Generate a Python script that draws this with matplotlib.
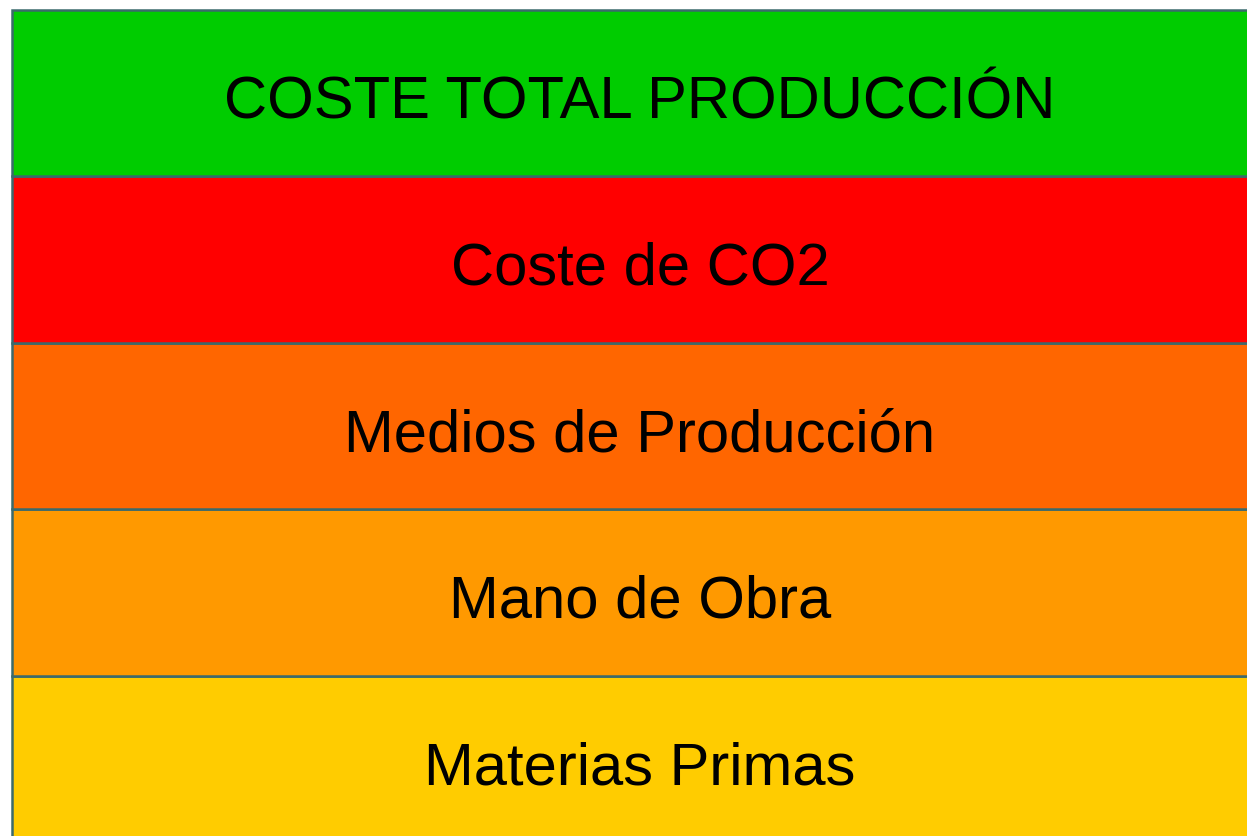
import matplotlib
matplotlib.use("Agg")
import matplotlib.pyplot as plt

# Layers from bottom to top
labels = ["Materias Primas", "Mano de Obra", "Medios de Producción",
          "Coste de CO2", "COSTE TOTAL PRODUCCIÓN"]
heights = [1, 1, 1, 1, 1]
colors = ["#FFCC00", "#FF9900", "#FF6600", "#FF0000", "#00CC00"]

fig = plt.figure(figsize=(12.47, 8.36), dpi=100)
ax = fig.add_axes([0, 0, 1, 1])

px = 1 / 166.5  # data units per pixel vertically
bottom = 0
for lab, h, c in zip(labels, heights, colors):
    ax.bar(0.5, h, bottom=bottom, width=1, color=c, edgecolor="#3b6a6c",
           linewidth=1.8)
    ax.text(0.5, bottom + h / 2 - 25 * px, lab, ha="center", va="baseline",
            fontsize=43, color="black", family="Liberation Sans")
    bottom += h

ax.set_xlim(-12 / 1256, 1235 / 1256)
ax.set_ylim(5.06 - 836 / 166.5, 5.06)
ax.axis("off")
fig.savefig("out.png", dpi=100)
